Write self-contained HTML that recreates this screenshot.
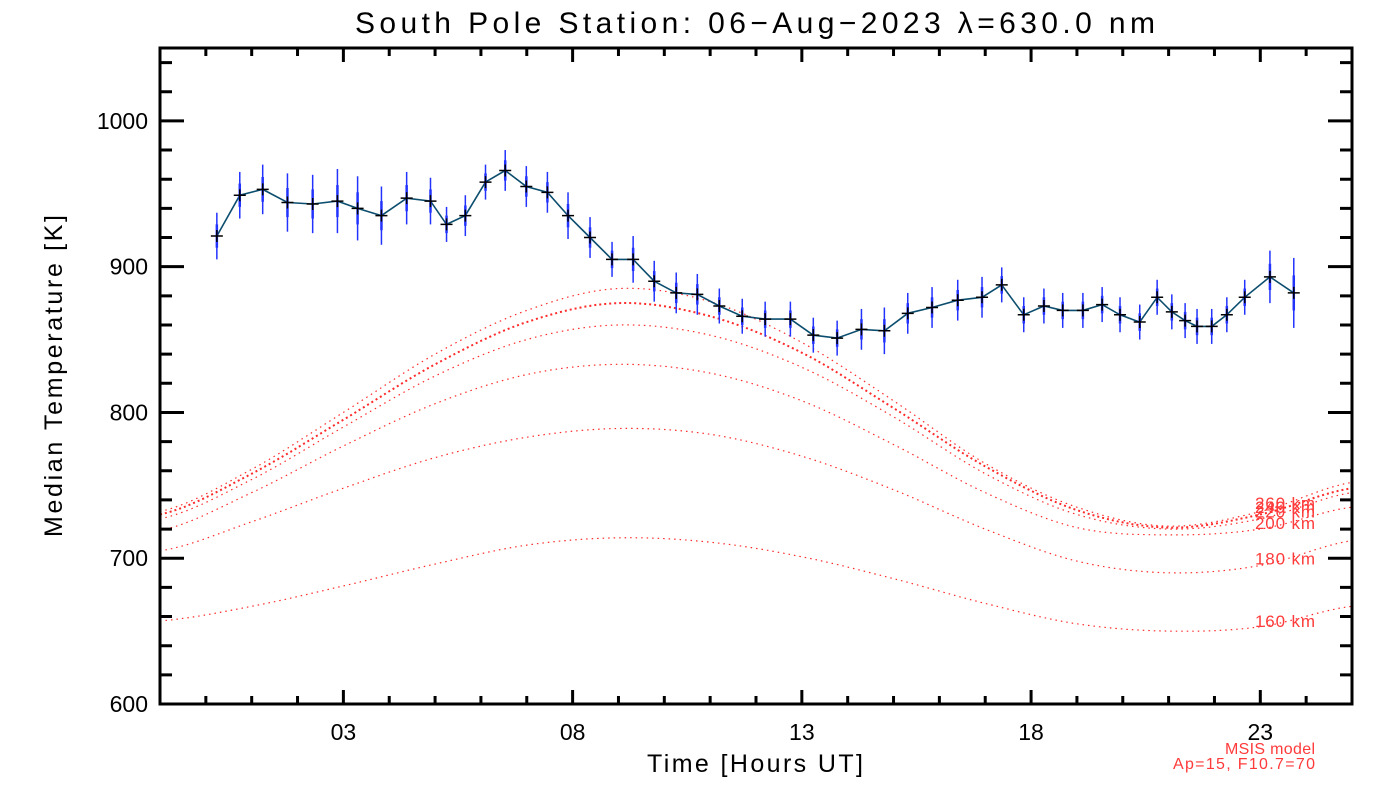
<!DOCTYPE html>
<html><head><meta charset="utf-8"><style>
body{margin:0;background:#fff;}
svg{display:block;font-family:"Liberation Sans",sans-serif;}
</style></head><body>
<svg id="chart" width="1400" height="800"></svg>
<script>
const obsTimes=[0.24,0.74,1.24,1.78,2.33,2.87,3.31,3.83,4.38,4.90,5.25,5.66,6.10,6.53,6.99,7.45,7.90,8.38,8.86,9.32,9.78,10.26,10.72,11.20,11.70,12.20,12.75,13.25,13.77,14.30,14.80,15.31,15.84,16.40,16.93,17.36,17.84,18.28,18.69,19.13,19.55,19.94,20.37,20.75,21.07,21.36,21.62,21.94,22.27,22.66,23.21,23.73];
const obsTemps=[921,949,953,944,943,945,940,935,947,945,929,935,958,966,955,951,935,920,905,905,890,882,881,873,866,864,864,853,851,857,856,868,872,877,879,887.5,867,873,870,870,874,867,862,879,869,863,859,859,867,879,893,882];
const obsErr=[16,16,17,20,20,22,22,20,18,16,12,14,12,14,14,14,16,14,12,16,14,14,14,12,12,12,12,12,12,14,16,14,14,14,14,12,12,12,12,12,12,12,12,12,12,12,12,12,12,12,18,24];
const modelHours=[-1,1,3,5,7,9,11,13,15,17,19,21,23,25];
const altitudes=["160 km","180 km","200 km","220 km","240 km","260 km"];
const t160=[657,667,681,696,709,714,711,701,686,669,655,650,653,667];
const t180=[705,725,748,769,783,789,785,770,747,720,698,690,695,712];
const t200=[719,745,777,806,826,833,827,808,778,745,721,716,720,735];
const t220=[727,754,790,825,850,860,853,831,797,758,730,720,727,745];
const t240=[730,758,795,833,862,875,866,841,803,763,733,721,730,748];
const t260=[732,761,800,840,870,885,876,848,808,765,735,722,732,752];
const xTickLabels=["03","08","13","18","23"];
const xTickHours=[3,8,13,18,23];
const yTickLabels=["600","700","800","900","1000"];
const yTickValues=[600,700,800,900,1000];

const NS="http://www.w3.org/2000/svg";
const svg=document.getElementById('chart');
const L=160,R=1352,T=48,B=704,X0=-1,X1=25,Y0=600,Y1=1050;
const xs=h=>L+(h-X0)/(X1-X0)*(R-L);
const ys=v=>B-(v-Y0)/(Y1-Y0)*(B-T);
function mk(tag,attrs,parent){const e=document.createElementNS(NS,tag);for(const k in attrs)e.setAttribute(k,attrs[k]);(parent||svg).appendChild(e);return e;}
function txt(s,attrs){const e=mk('text',attrs);e.textContent=s;return e;}

const series=[t160,t180,t200,t220,t240,t260];
function interp(arr,h){
  let i=0;while(i<modelHours.length-2&&h>modelHours[i+1])i++;
  const t=(h-modelHours[i])/(modelHours[i+1]-modelHours[i]);
  const p0=arr[Math.max(i-1,0)],p1=arr[i],p2=arr[i+1],p3=arr[Math.min(i+2,arr.length-1)];
  return 0.5*((2*p1)+(-p0+p2)*t+(2*p0-5*p1+4*p2-p3)*t*t+(-p0+3*p1-3*p2+p3)*t*t*t);
}
series.forEach((arr,k)=>{
  let d='';
  for(let h=X0;h<=X1+1e-9;h+=0.1){d+=(d?'L':'M')+xs(h).toFixed(1)+','+ys(interp(arr,h)).toFixed(1);}
  const p=mk('path',{d:d,fill:'none',stroke:'#ff2a2a','stroke-width':k==4?2:1.2,'stroke-dasharray':k==4?'2 3':'1.5 4'});
  
  
  const lt=txt(altitudes[k],{x:1255,y:ys(interp(arr,23.6))+6,fill:'#ff3a3a','font-size':17,'font-weight':'300',textLength:60});
  
  
});

let dl='';
obsTimes.forEach((h,i)=>{dl+=(i?'L':'M')+xs(h).toFixed(1)+','+ys(obsTemps[i]).toFixed(1);});
const line=mk('path',{d:dl,fill:'none',stroke:'#0b4d6e','stroke-width':1.6});


obsTimes.forEach((h,i)=>{
  const x=xs(h),y=ys(obsTemps[i]);
  const eb=mk('line',{x1:x,x2:x,y1:ys(obsTemps[i]+obsErr[i]),y2:ys(obsTemps[i]-obsErr[i]),stroke:'#2233ff','stroke-width':1.5});
  
  
  const eb2=mk('line',{x1:x,x2:x,y1:ys(obsTemps[i]+obsErr[i]/2),y2:ys(obsTemps[i]-obsErr[i]/2),stroke:'#2233ff','stroke-width':2.5});
  
  
  const pt=mk('path',{d:`M${x-6},${y}H${x+6}M${x},${y-6}V${y+6}`,stroke:'#000','stroke-width':1.5});
  
  
});

const box=mk('rect',{x:L,y:T,width:R-L,height:B-T,fill:'none',stroke:'#000','stroke-width':3});


let td='';
for(let h=X0+1;h<X1;h++){const x=xs(h),len=(h-3)%5==0?14:8;td+=`M${x},${B}V${B-len}M${x},${T}V${T+len}`;}
for(let v=Y0+20;v<Y1;v+=20){const y=ys(v),len=v%100==0?24:12;td+=`M${L},${y}H${L+len}M${R},${y}H${R-len}`;}
const ticks=mk('path',{d:td,stroke:'#000','stroke-width':3});


xTickLabels.forEach((s,i)=>{const t=txt(s,{x:xs(xTickHours[i]),y:740,'text-anchor':'middle','font-size':23,'font-weight':'300'});
  });
yTickLabels.forEach((s,i)=>{const t=txt(s,{x:148,y:ys(yTickValues[i])+8,'text-anchor':'end','font-size':23,'font-weight':'300'});
  });
</script>
<svg style="position:absolute;left:0;top:0" width="1400" height="800">
<text x="755" y="33" text-anchor="middle" font-size="30" font-family="Liberation Sans,sans-serif" textLength="800">South Pole Station: 06−Aug−2023 λ=630.0 nm</text>
<text x="755" y="772" text-anchor="middle" font-size="25" font-family="Liberation Sans,sans-serif" textLength="216">Time [Hours UT]</text>
<text transform="translate(62,376) rotate(-90)" text-anchor="middle" font-size="25" font-family="Liberation Sans,sans-serif" textLength="322">Median Temperature [K]</text>
<text x="1315" y="754" text-anchor="end" font-size="16" fill="#ff3a3a" font-family="Liberation Sans,sans-serif" textLength="90">MSIS model</text>
<text x="1315" y="769" text-anchor="end" font-size="16" fill="#ff3a3a" font-family="Liberation Sans,sans-serif" textLength="142">Ap=15, F10.7=70</text>
</svg>
</body></html>
